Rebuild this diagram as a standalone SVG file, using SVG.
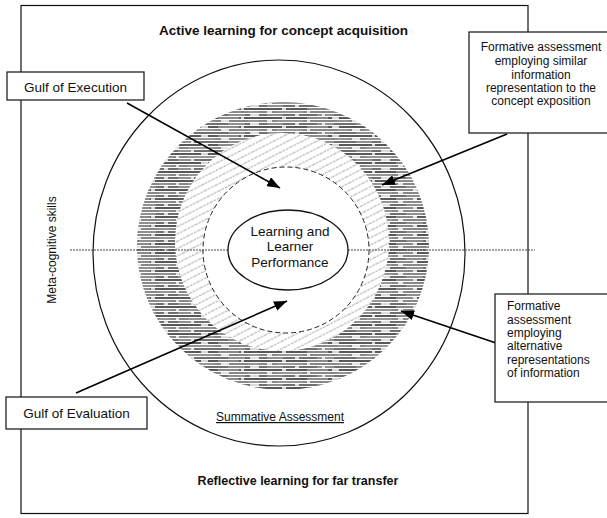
<svg xmlns="http://www.w3.org/2000/svg" width="607" height="518" viewBox="0 0 607 518">
<style>
.t{font-family:"Liberation Sans",Arial,Helvetica,sans-serif;fill:#111}
.b{font-weight:bold}
.box{fill:#fff;stroke:#111;stroke-width:1.2}
.ln{fill:none;stroke:#111;stroke-width:1.2}
.arr{fill:none;stroke:#000;stroke-width:1.6;marker-end:url(#ah)}
.wg{stroke:#fff;stroke-width:1.6}
.gg{stroke:#9a9a9a;stroke-width:1.5}
</style>
<defs>
<marker id="ah" markerUnits="userSpaceOnUse" markerWidth="14" markerHeight="10" refX="13" refY="5" orient="auto">
<path d="M0,0 L13,5 L0,10 z" fill="#000"/>
</marker>
<pattern id="hzA" patternUnits="userSpaceOnUse" width="10" height="9">
<rect width="10" height="9" fill="#fff"/>
<line x1="0" y1="1" x2="10" y2="1" stroke="#111" stroke-width="1.4"/>
<line x1="0" y1="4" x2="10" y2="4" stroke="#555" stroke-width="1.4"/>
<line x1="0" y1="7" x2="10" y2="7" stroke="#222" stroke-width="1.3"/>
</pattern>
<pattern id="hzB" patternUnits="userSpaceOnUse" width="131" height="9">
<path class="wg" d="M20,1H24M70,1H77M110,1H113M5,4H10M45,4H48M90,4H98M33,7H37M60,7H63M119,7H128"/>
</pattern>
<pattern id="hzC" patternUnits="userSpaceOnUse" width="89" height="9">
<path class="gg" d="M40,1H61M10,4H36M70,4H81M0,7H16M50,7H67"/>
</pattern>
<pattern id="dg" patternUnits="userSpaceOnUse" width="12" height="6.5" patternTransform="rotate(-27)">
<rect width="12" height="6.5" fill="#fff"/>
<line x1="0" y1="3" x2="12" y2="3" stroke="#8c8c8c" stroke-width="0.8" stroke-dasharray="2.5 1"/>
</pattern>
</defs>

<g id="frame">
<rect x="21" y="5.5" width="507" height="508" class="ln"/>
</g>

<g id="title-top">
<text class="t b" x="283.5" y="35" font-size="13.5" text-anchor="middle">Active learning for concept acquisition</text>
</g>
<g id="title-bottom">
<text class="t b" x="298" y="485" font-size="12.5" text-anchor="middle">Reflective learning for far transfer</text>
</g>
<g id="meta">
<text class="t" x="0" y="0" font-size="12" text-anchor="middle" transform="translate(56,250) rotate(-90)">Meta-cognitive skills</text>
</g>

<g id="summative-circle">
<ellipse cx="279" cy="253" rx="186" ry="193" fill="#fff" stroke="#111" stroke-width="1.2"/>
<text class="t" x="280" y="421" font-size="12" text-anchor="middle" text-decoration="underline">Summative Assessment</text>
</g>

<g id="formative-alternative-band">
<ellipse cx="283" cy="246" rx="146" ry="144" fill="url(#hzA)"/>
<ellipse cx="283" cy="246" rx="146" ry="144" fill="url(#hzC)"/>
<ellipse cx="283" cy="246" rx="146" ry="144" fill="url(#hzB)"/>
</g>
<g id="formative-similar-band">
<ellipse cx="282" cy="242" rx="107" ry="109" fill="url(#dg)"/>
<ellipse cx="286" cy="250" rx="83" ry="83" fill="#fff" stroke="#222" stroke-width="1" stroke-dasharray="5 3"/>
</g>

<g id="axis">
<line x1="70" y1="250" x2="228" y2="250" stroke="#333" stroke-width="0.9" stroke-dasharray="2 1"/>
<line x1="348" y1="250" x2="535" y2="250" stroke="#333" stroke-width="0.9" stroke-dasharray="2 1"/>
</g>

<g id="learning-performance">
<ellipse cx="288" cy="250" rx="60" ry="40" fill="#fff" stroke="#111" stroke-width="1.3"/>
<text class="t" x="290" y="236" font-size="13.5" text-anchor="middle">Learning and</text>
<text class="t" x="290" y="251" font-size="13.5" text-anchor="middle">Learner</text>
<text class="t" x="290" y="266.5" font-size="13.5" text-anchor="middle">Performance</text>
</g>

<g id="connectors">
<line class="arr" x1="127" y1="103" x2="280" y2="188"/>
<line class="arr" x1="76" y1="393" x2="287" y2="301"/>
<line class="arr" x1="507" y1="134" x2="382" y2="185"/>
<line class="arr" x1="496" y1="343" x2="401" y2="311"/>
</g>

<g id="gulf-execution">
<rect x="7" y="72" width="137" height="28" class="box"/>
<text class="t" x="75.5" y="92" font-size="13.5" text-anchor="middle">Gulf of Execution</text>
</g>
<g id="gulf-evaluation">
<rect x="6" y="397" width="141" height="32" class="box"/>
<text class="t" x="76.5" y="418" font-size="13.5" text-anchor="middle">Gulf of Evaluation</text>
</g>
<g id="formative-similar">
<rect x="469" y="32" width="145" height="101" class="box"/>
<text class="t" x="541" y="51" font-size="12" text-anchor="middle">Formative assessment</text>
<text class="t" x="541" y="65" font-size="12" text-anchor="middle">employing similar</text>
<text class="t" x="541" y="78.5" font-size="12" text-anchor="middle">information</text>
<text class="t" x="541" y="92" font-size="12" text-anchor="middle">representation to the</text>
<text class="t" x="541" y="105" font-size="12" text-anchor="middle">concept exposition</text>
</g>
<g id="formative-alternative">
<rect x="495" y="294" width="119" height="108" class="box"/>
<text class="t" x="507" y="310" font-size="12">Formative</text>
<text class="t" x="507" y="323.5" font-size="12">assessment</text>
<text class="t" x="507" y="337" font-size="12">employing</text>
<text class="t" x="507" y="350" font-size="12">alternative</text>
<text class="t" x="507" y="363.5" font-size="12">representations</text>
<text class="t" x="507" y="377" font-size="12">of information</text>
</g>
</svg>
